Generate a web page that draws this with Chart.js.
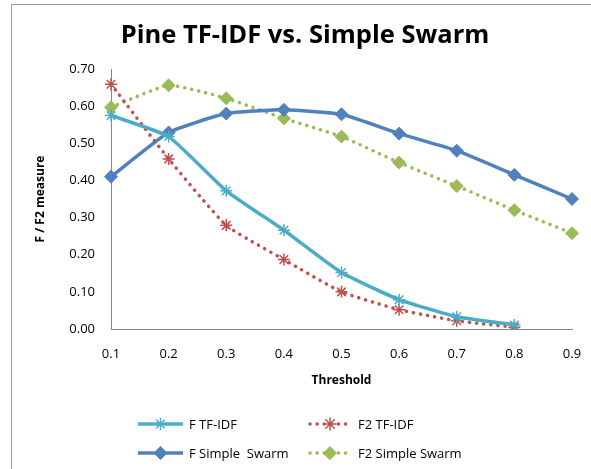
<!DOCTYPE html>
<html>
<head>
<meta charset="utf-8">
<script src="https://cdn.jsdelivr.net/npm/chart.js@4.4.1/dist/chart.umd.min.js"></script>
<style>
  html, body { margin: 0; padding: 0; background: #fff; }
  #wrap { position: relative; width: 591px; height: 469px; }
</style>
</head>
<body>
<div id="wrap"><canvas id="myChart" width="591" height="469"></canvas></div>
<script>
// data
const thresholds = ["0.1", "0.2", "0.3", "0.4", "0.5", "0.6", "0.7", "0.8", "0.9"];
const fTfIdf = [0.575, 0.518, 0.372, 0.266, 0.152, 0.079, 0.033, 0.011, null];
const f2TfIdf = [0.659, 0.458, 0.279, 0.187, 0.100, 0.052, 0.022, 0.005, null];
const fSwarm = [0.410, 0.529, 0.580, 0.590, 0.578, 0.526, 0.480, 0.415, 0.350];
const f2Swarm = [0.597, 0.656, 0.621, 0.567, 0.518, 0.448, 0.385, 0.320, 0.258];

const chartTitle = "Pine TF-IDF vs. Simple Swarm";
const FONT = "'Open Sans', 'Noto Sans', sans-serif";
const dotted = [0.1, 7];

function series(label, values, color, style, dash) {
  return {
    label: label,
    data: values,
    borderColor: color,
    backgroundColor: color,
    borderWidth: 3.5,
    borderDash: dash || [],
    borderCapStyle: dash ? "round" : "butt",
    pointStyle: style,
    pointRadius: style === "star" ? 6 : 6.5,
    pointBorderWidth: style === "star" ? 1.5 : 1,
    pointBorderColor: color,
    pointBackgroundColor: color,
    tension: 0.15,
    spanGaps: false,
  };
}

// frame of the chart box (only top and left edges are inside the picture) + title
const pluginFrame = {
  id: "frame",
  beforeDraw(chart) {
    const ctx = chart.ctx;
    ctx.save();
    ctx.strokeStyle = "#9a9a9a";
    ctx.lineWidth = 1;
    ctx.beginPath();
    ctx.moveTo(11.5, 469);
    ctx.lineTo(11.5, 4.5);
    ctx.lineTo(591, 4.5);
    ctx.stroke();
    ctx.fillStyle = "#000";
    ctx.font = "bold 25.5px " + FONT;
    ctx.textAlign = "center";
    ctx.textBaseline = "middle";
    ctx.fillText(chartTitle, 305, 36);
    ctx.restore();
  },
};

// 2 x 2 legend under the axis title
const pluginLegend = {
  id: "gridLegend",
  afterDraw(chart) {
    const ctx = chart.ctx;
    const spots = [
      { x: 138, y: 424 },
      { x: 310, y: 424 },
      { x: 138, y: 453 },
      { x: 310, y: 453 },
    ];
    chart.data.datasets.forEach((ds, i) => {
      const s = spots[i];
      const w = ds.borderDash.length ? 40 : 45;
      ctx.save();
      ctx.strokeStyle = ds.borderColor;
      ctx.lineWidth = ds.borderWidth;
      ctx.lineCap = ds.borderCapStyle;
      ctx.setLineDash(ds.borderDash);
      ctx.beginPath();
      ctx.moveTo(s.x, s.y);
      ctx.lineTo(s.x + w, s.y);
      ctx.stroke();
      ctx.setLineDash([]);
      ctx.fillStyle = ds.pointBackgroundColor;
      ctx.strokeStyle = ds.pointBorderColor;
      ctx.lineWidth = ds.pointBorderWidth;
      Chart.helpers.drawPoint(ctx, { pointStyle: ds.pointStyle, radius: ds.pointRadius, rotation: 0, borderWidth: ds.pointBorderWidth }, s.x + w / 2, s.y);
      ctx.fillStyle = "#000";
      ctx.font = "13px " + FONT;
      ctx.textBaseline = "middle";
      ctx.fillText(ds.label, s.x + w + (ds.borderDash.length ? 8 : 6), s.y + 1);
      ctx.restore();
    });
  },
};

const chart = new Chart(document.getElementById("myChart").getContext("2d"), {
  type: "line",
  data: {
    labels: thresholds,
    datasets: [
      series("F TF-IDF", fTfIdf, "#4BACC6", "star"),
      series("F2 TF-IDF", f2TfIdf, "#C0504D", "star", dotted),
      series("F Simple  Swarm", fSwarm, "#4F81BD", "rectRot"),
      series("F2 Simple Swarm", f2Swarm, "#9BBB59", "rectRot", dotted),
    ],
  },
  options: {
    responsive: false,
    animation: false,
    layout: { padding: { left: 0, right: 19, top: 69, bottom: 81 } },
    plugins: {
      legend: { display: false },
      tooltip: { enabled: false },
      title: { display: false },
    },
    scales: {
      x: {
        offset: false,
        grid: { display: false, drawTicks: false },
        border: { display: true, color: "#868686", width: 1 },
        ticks: { color: "#000", font: { family: FONT, size: 13 }, padding: 17, maxRotation: 0 },
        title: {
          display: true,
          text: "Threshold",
          color: "#000",
          font: { family: FONT, size: 12, weight: "bold" },
          padding: { top: 0, bottom: 0 },
        },
        afterFit(scale) {
          scale.height = 59;
          scale.paddingLeft = 0;
          scale.paddingRight = 0;
        },
      },
      y: {
        min: 0,
        max: 0.7,
        grid: { display: false, drawTicks: false },
        border: { display: true, color: "#868686", width: 1 },
        ticks: {
          stepSize: 0.1,
          color: "#000",
          font: { family: FONT, size: 13 },
          padding: 16,
          callback: (v) => v.toFixed(2),
        },
        title: {
          display: true,
          text: "F / F2 measure",
          color: "#000",
          font: { family: FONT, size: 12, weight: "bold" },
          padding: { top: 33, bottom: 0 },
        },
        afterFit(scale) { scale.width = 111; },
      },
    },
  },
  plugins: [pluginFrame, pluginLegend],
});
</script>
</body>
</html>
